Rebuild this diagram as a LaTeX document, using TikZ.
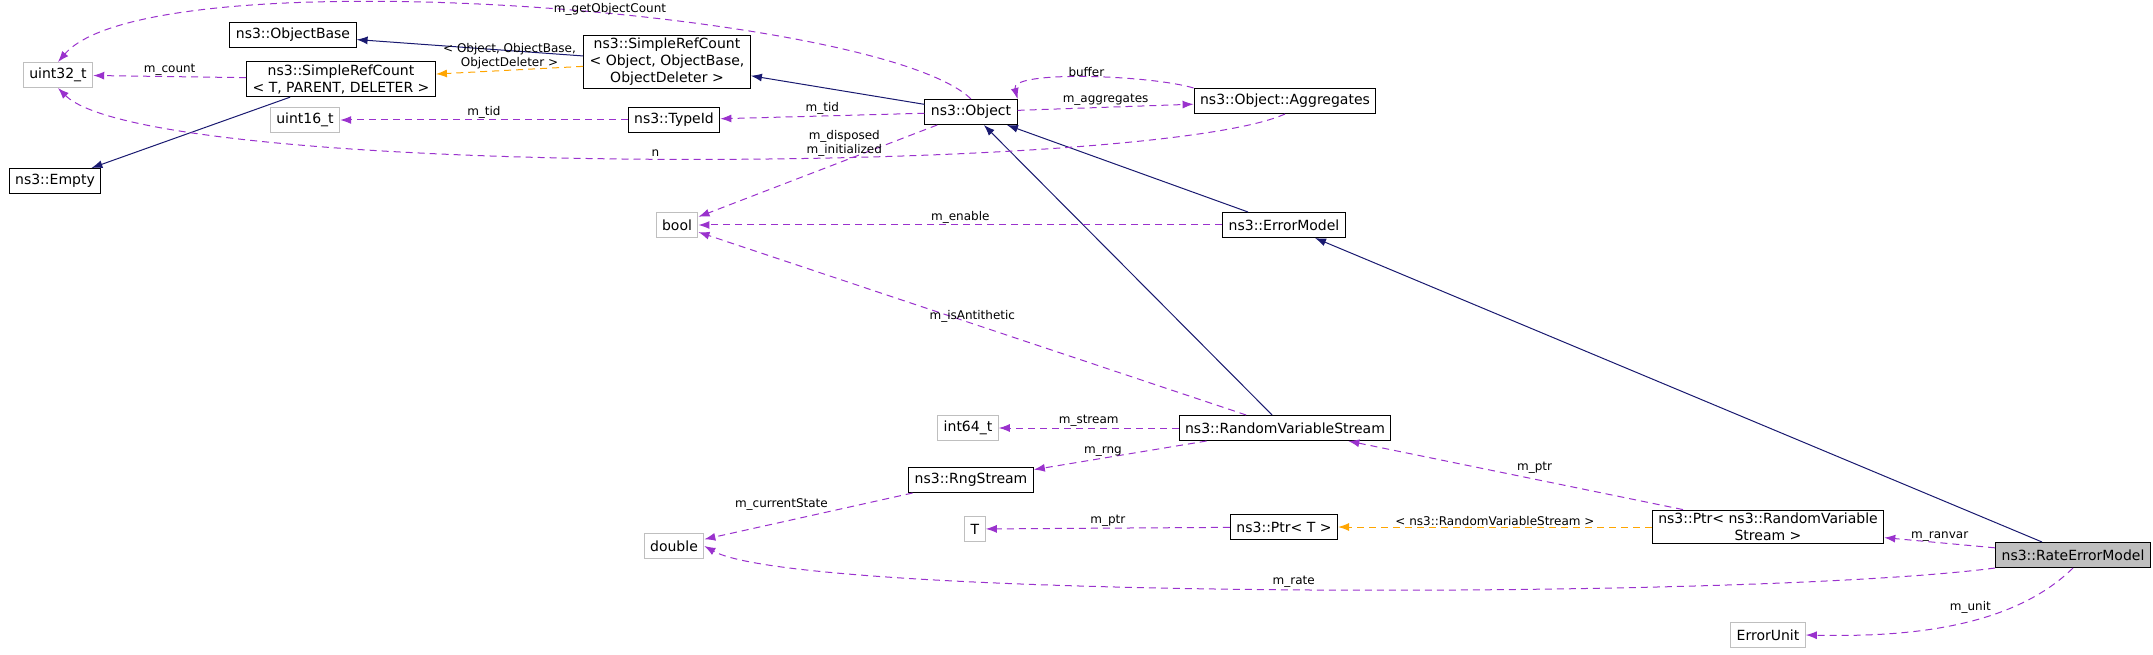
\documentclass[tikz,border=0pt]{standalone}
\usepackage{fontspec}
\setmainfont{DejaVu Sans}
\usetikzlibrary{arrows.meta}
\begin{document}
\begin{tikzpicture}
    [
        x=1pt, y=-1pt,
        cls/.style={draw=black, rectangle, line width=1pt, inner xsep=6pt, inner ysep=3pt, minimum height=25pt, align=center, font=\fontsize{14}{17}\selectfont},
        ext/.style={cls, draw=black!25},
        inherit/.style={-{Latex[length=11pt,width=8pt]}, draw=midnight, line width=1pt},
        member/.style={-{Latex[length=11pt,width=8pt]}, draw=orchid, dashed, dash pattern=on 7pt off 5pt, line width=1pt},
        templ/.style={member, draw=tmplorange},
        lbl/.style={font=\fontsize{12}{14}\selectfont, align=center, inner sep=1pt},
    ]
    \definecolor{midnight}{HTML}{191970}
    \definecolor{orchid}{HTML}{9A32CD}
    \definecolor{tmplorange}{HTML}{FFA500}
    \useasboundingbox (0,0) rectangle (2153,655);

    % classes
    \node (uint32) at (58,75)    [ext] {uint32\_t};
    \node (srct) at (341,79)     [cls] {ns3::SimpleRefCount\\< T, PARENT, DELETER >};
    \node (objbase) at (293,35)  [cls] {ns3::ObjectBase};
    \node (empty) at (55,181)    [cls] {ns3::Empty};
    \node (srcobj) at (667,62)   [cls] {ns3::SimpleRefCount\\< Object, ObjectBase,\\ObjectDeleter >};
    \node (uint16) at (305,120)  [ext] {uint16\_t};
    \node (typeid) at (674,120)  [cls] {ns3::TypeId};
    \node (object) at (971,112)  [cls] {ns3::Object};
    \node (aggr) at (1285,101)   [cls] {ns3::Object::Aggregates};
    \node (bool) at (677,225)    [ext] {bool};
    \node (errmodel) at (1284,225) [cls] {ns3::ErrorModel};
    \node (int64) at (968,428)   [ext] {int64\_t};
    \node (rvs) at (1285,428)    [cls] {ns3::RandomVariableStream};
    \node (rng) at (971,480)     [cls] {ns3::RngStream};
    \node (t) at (975,529)       [ext] {T};
    \node (ptrt) at (1284,527)   [cls] {ns3::Ptr< T >};
    \node (double) at (674,546)  [ext] {double};
    \node (ptrrvs) at (1768,527) [cls] {ns3::Ptr< ns3::RandomVariable\\Stream >};
    \node (rate) at (2073,555)   [cls, fill=black!25] {ns3::RateErrorModel};
    \node (unit) at (1768,635)   [ext] {ErrorUnit};

    % inheritance
    \draw [inherit] (srcobj) -- (objbase);
    \draw [inherit] (srct) -- (empty);
    \draw [inherit] (object) -- (srcobj);
    \draw [inherit] (errmodel) -- (object);
    \draw [inherit] (rvs) -- (object);
    \draw [inherit] (rate) -- (errmodel);

    % members
    \draw [member] (srct) -- node [lbl, above] {m\_count} (uint32);
    \draw [templ] (srcobj) -- node [lbl, above] {< Object, ObjectBase,\\ObjectDeleter >} (srct);
    \draw [member] (object.north) .. controls (880,10) and (150,-45) .. (uint32.north);
    \node [lbl] (getcount) at (610,9) {m\_getObjectCount};
    \draw [member] (aggr.south) .. controls (1150,175) and (150,180) .. node [lbl, pos=0.5, above] {n} (uint32.south);
    \draw [member] (typeid) -- node [lbl, above] {m\_tid} (uint16);
    \draw [member] (object) -- node [lbl, above] {m\_tid} (typeid);
    \draw [member] (object) -- node [lbl, above] {m\_aggregates} (aggr);
    \draw [member] (aggr.north west) .. controls (1150,75) and (1010,70) .. node [lbl, above] {buffer} (object.north east);
    \draw [member] (object) -- node [lbl, pos=0.2, left=6pt] {m\_disposed\\m\_initialized} (bool);
    \draw [member] (errmodel) -- node [lbl, above] {m\_enable} (bool);
    \draw [member] (rvs) -- node [lbl, above] {m\_isAntithetic} (bool);
    \draw [member] (rvs) -- node [lbl, above] {m\_stream} (int64);
    \draw [member] (rvs) -- node [lbl, pos=0.6, above] {m\_rng} (rng);
    \draw [member] (rng) -- node [lbl, pos=0.4, above left] {m\_currentState} (double);
    \draw [member] (ptrt) -- node [lbl, above] {m\_ptr} (t);
    \draw [templ] (ptrrvs) -- node [lbl, above] {< ns3::RandomVariableStream >} (ptrt);
    \draw [member] (ptrrvs) -- node [lbl, above right] {m\_ptr} (rvs);
    \draw [member] (rate) -- node [lbl, above] {m\_ranvar} (ptrrvs);
    \draw [member] (rate.south west) .. controls (1750,600) and (800,600) .. node [lbl, above] {m\_rate} (double.east);
    \draw [member] (rate.south) .. controls (2010,630) and (1900,637) .. node [lbl, pos=0.35, above left] {m\_unit} (unit.east);

\end{tikzpicture}
\end{document}
